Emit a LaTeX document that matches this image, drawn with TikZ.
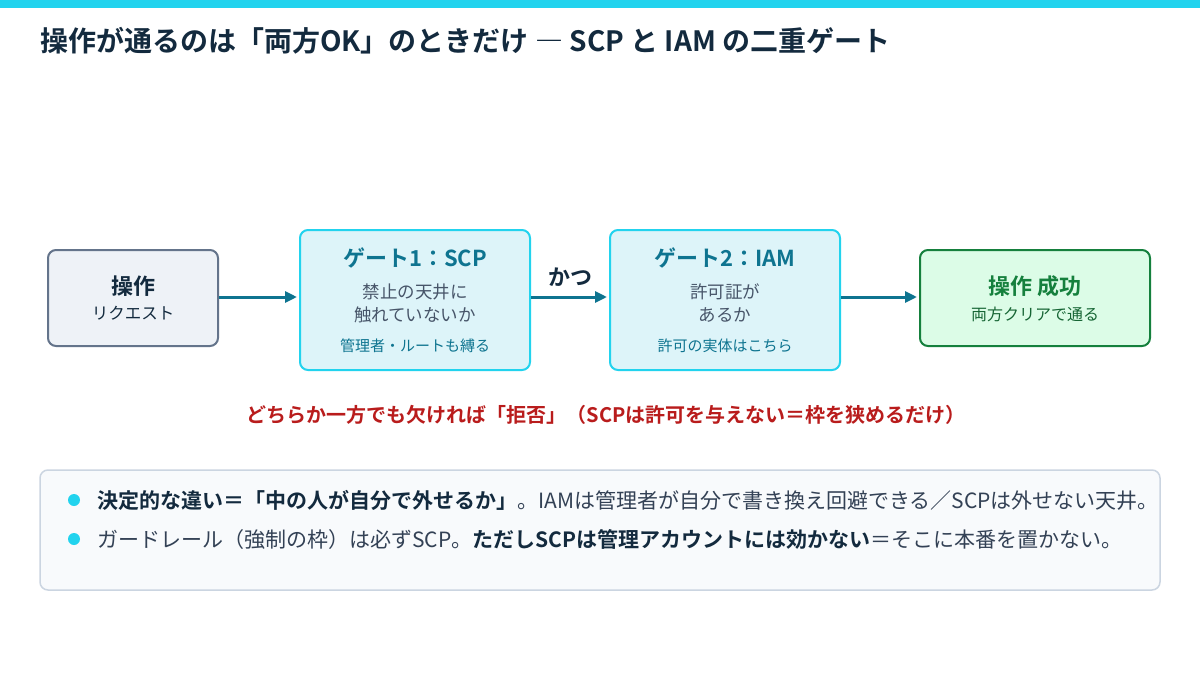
\documentclass[tikz,border=0pt]{standalone}
\usepackage{fontspec}
\setmainfont{Noto Sans CJK JP}[BoldFont={Noto Sans CJK JP Bold}]
\usetikzlibrary{arrows.meta,positioning}

\definecolor{barcyan}{HTML}{22D3EE}
\definecolor{titleink}{HTML}{132A3E}
\definecolor{reqfill}{HTML}{EEF2F7}
\definecolor{reqline}{HTML}{64748B}
\definecolor{gatefill}{HTML}{DDF4F9}
\definecolor{gateink}{HTML}{0E7490}
\definecolor{bodyink}{HTML}{475569}
\definecolor{okfill}{HTML}{DCFCE7}
\definecolor{okline}{HTML}{15803D}
\definecolor{oksub}{HTML}{166534}
\definecolor{denyred}{HTML}{B91C1C}
\definecolor{panelfill}{HTML}{F8FAFC}
\definecolor{panelline}{HTML}{CBD5E1}
\definecolor{noteink}{HTML}{334155}

\tikzset{
  box/.style={draw, rounded corners=8pt, line width=2pt, inner sep=0pt},
  reqbox/.style={box, fill=reqfill, draw=reqline, minimum width=170pt, minimum height=96pt},
  gatebox/.style={box, fill=gatefill, draw=barcyan, minimum width=230pt, minimum height=140pt},
  okbox/.style={box, fill=okfill, draw=okline, minimum width=230pt, minimum height=96pt},
  flow/.style={draw=gateink, line width=3pt, -{Triangle[length=12pt,width=11pt]}},
  txt/.style={inner sep=0pt, anchor=center},
  bullet/.style={circle, fill=barcyan, inner sep=0pt, minimum size=12pt}
}

\begin{document}
\begin{tikzpicture}[x=1pt, y=-1pt]
  \useasboundingbox (0,0) rectangle (1200,680);
  \fill[white] (0,0) rectangle (1200,680);

  % Top bar and title
  \fill[barcyan] (0,0) rectangle (1200,8);
  \node[txt, anchor=west, text=titleink, font=\bfseries\fontsize{28}{32}\selectfont] (title) at (40,41)
    {操作が通るのは「両方OK」のときだけ ― SCP と IAM の二重ゲート};

  % Boxes
  \node[reqbox] (req) at (133,298) {};
  \node[gatebox] (scp) at (415,300) {};
  \node[gatebox] (iam) at (725,300) {};
  \node[okbox] (ok) at (1035,298) {};

  % Request
  \node[txt, text=titleink, font=\bfseries\fontsize{22}{26}\selectfont] (reqtitle) at (133,286) {操作};
  \node[txt, text=titleink, font=\fontsize{16.5}{20}\selectfont] (reqsub) at (133,313) {リクエスト};

  % Gate 1
  \node[txt, text=gateink, font=\bfseries\fontsize{22}{26}\selectfont] (scptitle) at (415,258) {ゲート1：SCP};
  \node[txt, text=bodyink, font=\fontsize{17.5}{21}\selectfont] (scpa) at (415,292) {禁止の天井に};
  \node[txt, text=bodyink, font=\fontsize{17.5}{21}\selectfont] (scpb) at (415,315) {触れていないか};
  \node[txt, text=gateink, font=\fontsize{15}{18}\selectfont] (scpnote) at (415,346) {管理者・ルートも縛る};

  % Gate 2
  \node[txt, text=gateink, font=\bfseries\fontsize{22}{26}\selectfont] (iamtitle) at (725,258) {ゲート2：IAM};
  \node[txt, text=bodyink, font=\fontsize{17.5}{21}\selectfont] (iama) at (725,292) {許可証が};
  \node[txt, text=bodyink, font=\fontsize{17.5}{21}\selectfont] (iamb) at (725,315) {あるか};
  \node[txt, text=gateink, font=\fontsize{15}{18}\selectfont] (iamnote) at (725,346) {許可の実体はこちら};

  % Success
  \node[txt, text=okline, font=\bfseries\fontsize{22}{26}\selectfont] (oktitle) at (1035,286) {操作 成功};
  \node[txt, text=oksub, font=\fontsize{16}{20}\selectfont] (oksubt) at (1035,314) {両方クリアで通る};

  % Arrows
  \draw[flow] (req.east |- 0,297) -- ([xshift=-2pt]scp.west |- 0,297);
  \draw[flow] (scp.east |- 0,297) -- ([xshift=-2pt]iam.west |- 0,297);
  \draw[flow] (iam.east |- 0,297) -- ([xshift=-2pt]ok.west |- 0,297);
  \node[txt, text=titleink, font=\bfseries\fontsize{22}{26}\selectfont] (both) at (570,277) {かつ};

  % Deny line
  \node[txt, text=denyred, font=\bfseries\fontsize{20}{24}\selectfont] (deny) at (606,415)
    {どちらか一方でも欠ければ「拒否」（SCPは許可を与えない＝枠を狭めるだけ）};

  % Notes panel
  \draw[fill=panelfill, draw=panelline, line width=1.5pt, rounded corners=8pt] (40,470) rectangle (1160,590);
  \node[bullet] (dota) at (74,500) {};
  \node[bullet] (dotb) at (74,539) {};
  \node[txt, anchor=west, text=noteink, font=\fontsize{21}{25}\selectfont] (notea) at (97,500)
    {\textbf{\color{titleink}決定的な違い＝「中の人が自分で外せるか」}。IAMは管理者が自分で書き換え回避できる／SCPは外せない天井。};
  \node[txt, anchor=west, text=noteink, font=\fontsize{21}{25}\selectfont] (noteb) at (97,539)
    {ガードレール（強制の枠）は必ずSCP。\textbf{\color{titleink}ただしSCPは管理アカウントには効かない}＝そこに本番を置かない。};
\end{tikzpicture}
\end{document}
